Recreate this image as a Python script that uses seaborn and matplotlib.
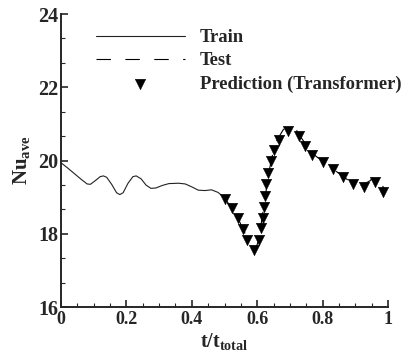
import matplotlib
matplotlib.use("Agg")
import matplotlib.pyplot as plt
import seaborn as sns
import pandas as pd
from matplotlib.ticker import MultipleLocator

# ---- data ----
train_t = [0.0, 0.02, 0.04, 0.06, 0.08, 0.09, 0.105, 0.12, 0.13, 0.14, 0.155, 0.17,
           0.18, 0.19, 0.205, 0.22, 0.23, 0.245, 0.26, 0.275, 0.29, 0.31, 0.33, 0.36,
           0.38, 0.40, 0.42, 0.44, 0.46, 0.48, 0.495]
train_nu = [19.94, 19.80, 19.65, 19.50, 19.36, 19.35, 19.45, 19.56, 19.58, 19.54, 19.35, 19.12,
            19.07, 19.12, 19.38, 19.56, 19.58, 19.50, 19.33, 19.24, 19.25, 19.32, 19.37, 19.38,
            19.36, 19.28, 19.19, 19.18, 19.20, 19.13, 19.02]

test_t = [0.495, 0.50, 0.52, 0.54, 0.555, 0.57, 0.585, 0.595, 0.605, 0.615, 0.625, 0.635,
          0.645, 0.66, 0.68, 0.70, 0.715, 0.73, 0.75, 0.77, 0.80, 0.83, 0.86, 0.89, 0.92,
          0.945, 0.955, 0.965, 0.98, 0.99]
test_nu = [19.02, 18.98, 18.72, 18.45, 18.15, 17.88, 17.62, 17.58, 17.85, 18.45, 19.05, 19.65,
           20.10, 20.55, 20.85, 20.93, 20.90, 20.68, 20.42, 20.18, 19.98, 19.78, 19.58, 19.38,
           19.32, 19.45, 19.55, 19.52, 19.35, 19.20]

pred_t = [0.501, 0.524, 0.540, 0.555, 0.569, 0.590, 0.606, 0.611, 0.618, 0.621, 0.625, 0.628,
          0.633, 0.641, 0.651, 0.667, 0.694, 0.727, 0.747, 0.768, 0.801, 0.832, 0.862, 0.893,
          0.927, 0.959, 0.985]
pred_nu = [18.96, 18.70, 18.42, 18.13, 17.84, 17.55, 17.82, 18.15, 18.42, 18.73, 19.04, 19.36,
           19.67, 19.98, 20.28, 20.56, 20.80, 20.67, 20.40, 20.14, 19.96, 19.76, 19.56, 19.36,
           19.29, 19.40, 19.15]

x_ticks = [0, 0.2, 0.4, 0.6, 0.8, 1]
x_ticklabels = ["0", "0.2", "0.4", "0.6", "0.8", "1"]
y_ticks = [16, 18, 20, 22, 24]

# ---- style ----
sns.set_theme(style="ticks")
plt.rcParams["font.family"] = ["Liberation Serif", "DejaVu Serif"]
plt.rcParams["font.weight"] = "bold"
plt.rcParams["mathtext.default"] = "regular"
plt.rcParams["axes.linewidth"] = 1.4

fig = plt.figure(figsize=(4.09, 3.56), dpi=100)
ax = fig.add_axes([0.149, 0.1376, 0.800, 0.823])

df_train = pd.DataFrame({"t": train_t, "nu": train_nu})
df_test = pd.DataFrame({"t": test_t, "nu": test_nu})
df_pred = pd.DataFrame({"t": pred_t, "nu": pred_nu})

sns.lineplot(data=df_train, x="t", y="nu", ax=ax, color="#222222", linewidth=0.8,
             label="Train", sort=False, estimator=None)
test_ln = sns.lineplot(data=df_test, x="t", y="nu", ax=ax, color="black", linewidth=0.8,
                       label="Test", sort=False, estimator=None)
test_ln.lines[-1].set_dashes([13, 13])
sns.scatterplot(data=df_pred, x="t", y="nu", ax=ax, color="black", marker="v",
                s=58, edgecolor="black", linewidth=0.3, label="Prediction (Transformer)", zorder=5)

ax.set_xlim(0, 1)
ax.set_ylim(16, 24)
ax.set_xticks(x_ticks)
ax.set_xticklabels(x_ticklabels)
ax.set_yticks(y_ticks)
ax.xaxis.set_minor_locator(MultipleLocator(0.05))
ax.yaxis.set_minor_locator(MultipleLocator(2 / 3))
ax.tick_params(axis="both", which="major", direction="in", length=5, width=1.2)
ax.tick_params(axis="both", which="minor", direction="in", length=3, width=0.8)
ax.tick_params(axis="x", labelsize=13, pad=3)
ax.tick_params(axis="y", labelsize=14.5, pad=2)
for lab in ax.get_xticklabels() + ax.get_yticklabels():
    lab.set_fontweight("bold")

sns.despine(ax=ax)
ax.spines["left"].set_linewidth(1.4)
ax.spines["bottom"].set_linewidth(1.4)

ax.set_xlabel("t/t$_{total}$", fontsize=14.5, fontweight="bold", labelpad=2)
ax.set_ylabel("Nu$_{ave}$", fontsize=15, fontweight="bold", labelpad=4)

leg = ax.legend(loc="upper left", bbox_to_anchor=(0.108, 0.948), frameon=False,
                fontsize=13.4, handlelength=4.75, handletextpad=0.8, labelspacing=0.33,
                borderpad=0, borderaxespad=0)
for t in leg.get_texts():
    t.set_fontweight("bold")
leg.get_lines()[1].set_dashes([13, 13])

fig.savefig("out.png", dpi=100)
